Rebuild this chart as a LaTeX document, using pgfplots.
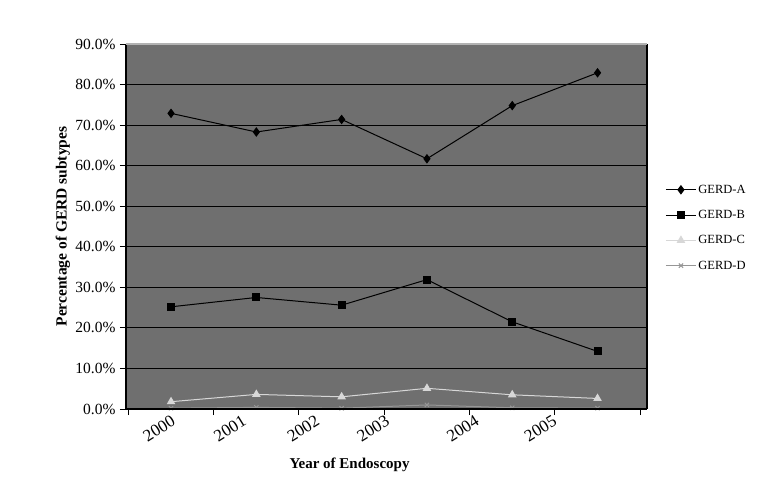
\documentclass[border=0pt]{standalone}
\usepackage{fontspec}
\setmainfont{Liberation Serif}
\usepackage{pgfplots}
\pgfplotsset{compat=1.18}
\definecolor{plotbg}{RGB}{111,111,111}
\definecolor{gerdc}{RGB}{215,215,215}
\definecolor{gerdd}{RGB}{150,150,150}

\begin{document}
\begin{tikzpicture}[x=1pt,y=1pt]
\begin{axis}[
    at={(0,0)}, anchor=south west,
    scale only axis,
    width=521pt, height=365pt,
    xmin=-0.528, xmax=5.58,
    ymin=0, ymax=90,
    axis background/.style={fill=plotbg},
    axis line style={draw=none},
    tick pos=left,
    xtick={-0.5,0.5,1.5,2.5,3.5,4.5,5.5},
    xticklabels={},
    extra x ticks={0.0,0.83,1.69,2.51,3.56,4.47},
    extra x tick labels={2000,2001,2002,2003,2004,2005},
    extra x tick style={major tick length=0pt, xmajorgrids=false,
      tick label style={rotate=32, anchor=north east, yshift=-1pt,
        font=\fontsize{17}{17}\selectfont}},
    ytick={0,10,...,90},
    yticklabel={\pgfmathprintnumber[fixed,fixed zerofill,precision=1]{\tick}\%},
    /pgf/number format/assume math mode=true,
    yticklabel style={font=\fontsize{15.5}{15.5}\selectfont, xshift=-1pt},
    tick align=outside,
    major tick length=6pt,
    tick style={black, line width=1pt},
    ymajorgrids,
    grid style={black, line width=1.2pt},
    xlabel={\textbf{Year of Endoscopy}},
    xlabel style={font=\fontsize{15}{15}\selectfont, at={(rel axis cs:0.429,0)},
      anchor=center, yshift=-56pt},
    ylabel={\textbf{Percentage of GERD subtypes}},
    ylabel style={font=\fontsize{15.5}{15.5}\selectfont, at={(rel axis cs:0,0.5)},
      anchor=center, yshift=63pt},
    legend style={draw=none, fill=none, at={(1.035,0.62)}, anchor=north west,
      font=\fontsize{12.5}{12.5}\selectfont, row sep=11.5pt, inner sep=0pt},
    legend cell align=left,
    legend image code/.code={
      \draw[mark repeat=2,mark phase=2] plot coordinates {(0pt,0pt) (15pt,0pt) (30pt,0pt)};
    },
    clip=false,
    extra description/.code={
      \draw[black, line width=1.2pt] (rel axis cs:0,0) -- (rel axis cs:0,1);
      \draw[black, line width=1.2pt] (rel axis cs:0,0) -- (rel axis cs:1,0);
      \draw[black, line width=1.2pt] (rel axis cs:1,0) -- (rel axis cs:1,1);
      \draw[gray!60, line width=1.2pt] (rel axis cs:0,1) -- (rel axis cs:1,1);
    },
  ]

  \addplot[black, line width=1pt, mark=diamond*, mark size=4pt] coordinates {
    (0,72.9) (1,68.3) (2,71.4) (3,61.7) (4,74.8) (5,82.9)
  };
  \addlegendentry{GERD-A}

  \addplot[black, line width=1pt, mark=square*, mark size=3.5pt] coordinates {
    (0,25.2) (1,27.5) (2,25.6) (3,31.9) (4,21.5) (5,14.2)
  };
  \addlegendentry{GERD-B}

  \addplot[gerdc, line width=1pt, mark=triangle*, mark size=4pt] coordinates {
    (0,1.8) (1,3.6) (2,3.0) (3,5.1) (4,3.5) (5,2.6)
  };
  \addlegendentry{GERD-C}

  \addplot[gerdd, line width=1pt, mark=x, mark size=3pt] coordinates {
    (0,0.2) (1,0.4) (2,0.2) (3,1.0) (4,0.3) (5,0.2)
  };
  \addlegendentry{GERD-D}

\end{axis}
\useasboundingbox (-126,-75) rectangle (647,409);
\end{tikzpicture}
\end{document}
